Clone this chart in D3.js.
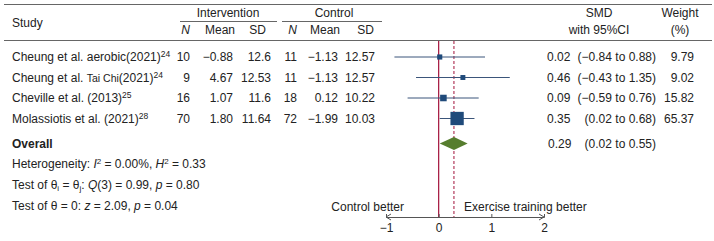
<!DOCTYPE html>
<html>
<head>
  <meta charset="utf-8">
  <title>Forest plot</title>
  <script src="https://d3js.org/d3.v7.min.js"></script>
  <style>
    body { margin: 0; background: #fff; }
    text { font-family: "Liberation Sans", Arial, sans-serif; font-size: 12px; fill: #222; }
  </style>
</head>
<body>
  <div id="chart"></div>
  <script>
    const studies = ["Cheung et al. aerobic (2021)", "Cheung et al. Tai Chi (2021)", "Cheville et al. (2013)", "Molassiotis et al. (2021)"];
    const refs = ["24", "24", "25", "28"];
    const nInt = ["10", "9", "16", "70"];
    const meanInt = ["\u22120.88", "4.67", "1.07", "1.80"];
    const sdInt = ["12.6", "12.53", "11.6", "11.64"];
    const nCtl = ["11", "11", "18", "72"];
    const meanCtl = ["\u22121.13", "\u22121.13", "0.12", "\u22121.99"];
    const sdCtl = ["12.57", "12.57", "10.22", "10.03"];
    const smd = [0.02, 0.46, 0.09, 0.35];
    const lo = [-0.84, -0.43, -0.59, 0.02];
    const hi = [0.88, 1.35, 0.76, 0.68];
    const weight = [9.79, 9.02, 15.82, 65.37];
    const overall = { est: 0.29, lo: 0.02, hi: 0.55 };
    const axisTicks = [-1, 0, 1, 2];

    const W = 714, H = 241;
    const svg = d3.select("#chart").append("svg")
      .attr("width", W).attr("height", H);

    const x = d3.scaleLinear().domain([-1, 2]).range([386, 544]);
    const y = d3.scaleLinear().domain([0, 3]).range([57, 118.5]);
    const size = d3.scaleSqrt().domain([0, 65.37]).range([0, 13.3]);
    const fmt = d => d < 0 ? "\u2212" + Math.abs(d).toFixed(2) : d.toFixed(2);

    const lineCol = "#666";
    // header rules
    svg.append("line").attr("x1", 4).attr("x2", 712).attr("y1", 4.5).attr("y2", 4.5).attr("stroke", lineCol);
    svg.append("line").attr("x1", 4).attr("x2", 712).attr("y1", 40.5).attr("y2", 40.5).attr("stroke", lineCol);
    svg.append("line").attr("x1", 180).attr("x2", 277).attr("y1", 21.5).attr("y2", 21.5).attr("stroke", lineCol);
    svg.append("line").attr("x1", 282).attr("x2", 382).attr("y1", 21.5).attr("y2", 21.5).attr("stroke", lineCol);

    const hdr = (t, xx, yy, anchor, italic) => svg.append("text")
      .attr("x", xx).attr("y", yy).attr("dy", "0.35em")
      .attr("text-anchor", anchor || "middle")
      .style("font-style", italic ? "italic" : null)
      .text(t);

    hdr("Study", 12, 23, "start");
    hdr("Intervention", 228, 13);
    hdr("Control", 334, 13);
    hdr("N", 190, 30, "end", true);
    hdr("Mean", 235, 30, "end");
    hdr("SD", 266, 30, "end");
    hdr("N", 297, 30, "end", true);
    hdr("Mean", 340, 30, "end");
    hdr("SD", 374, 30, "end");
    hdr("SMD", 599, 13);
    hdr("with 95%CI", 599, 30);
    hdr("Weight", 680, 13);
    hdr("(%)", 680, 30);

    // study labels
    studies.forEach((s, i) => {
      const t = svg.append("text").attr("x", 12).attr("y", y(i)).attr("dy", "0.35em");
      if (s.indexOf("Tai Chi") >= 0) {
        t.append("tspan").text("Cheung et al. ");
        t.append("tspan").attr("font-size", "10.5px").style("font-size", "10.5px").text("Tai Chi");
        t.append("tspan").text("(2021)");
      } else if (s.indexOf("aerobic") >= 0) {
        t.append("tspan").text("Cheung et al. aerobic(2021)");
      } else {
        t.append("tspan").text(s);
      }
      t.append("tspan").attr("dy", "-4").style("font-size", "8.5px").text(refs[i]);
    });

    const col = (arr, xx, anchor) => svg.selectAll(null).data(arr).enter().append("text")
      .attr("x", xx).attr("y", (d, i) => y(i)).attr("dy", "0.35em")
      .attr("text-anchor", anchor || "end").text(d => d);
    col(nInt, 190);
    col(meanInt, 233);
    col(sdInt, 271);
    col(nCtl, 297);
    col(meanCtl, 338);
    col(sdCtl, 375);

    col(smd.map(fmt), 547, "start");
    col(smd.map((d, i) => "(" + fmt(lo[i]) + " to " + fmt(hi[i]) + ")"), 656);
    col(weight.map(d => d.toFixed(2)), 694);

    // reference lines
    const red = "#a3123a";
    svg.append("line").attr("x1", x(0)).attr("x2", x(0)).attr("y1", 41).attr("y2", 217)
      .attr("stroke", red).attr("stroke-width", 1.2);
    svg.append("line").attr("x1", x(overall.est)).attr("x2", x(overall.est)).attr("y1", 41).attr("y2", 217)
      .attr("stroke", red).attr("stroke-width", 1).attr("stroke-dasharray", "3,2");

    // CIs and squares
    const navy = "#1f4a7a";
    svg.selectAll(".ci").data(smd).enter().append("line")
      .attr("x1", (d, i) => x(lo[i])).attr("x2", (d, i) => x(hi[i]))
      .attr("y1", (d, i) => y(i)).attr("y2", (d, i) => y(i))
      .attr("stroke", "#3b557a").attr("stroke-width", 1);
    svg.selectAll(".sq").data(smd).enter().append("rect")
      .attr("x", (d, i) => x(d) - size(weight[i]) / 2)
      .attr("y", (d, i) => y(i) - size(weight[i]) / 2)
      .attr("width", (d, i) => size(weight[i]))
      .attr("height", (d, i) => size(weight[i]))
      .attr("fill", navy);

    // overall
    const oy = 143.5;
    svg.append("path")
      .attr("d", `M${x(overall.lo)},${oy} L${x(overall.est)},${oy - 6.5} L${x(overall.hi)},${oy} L${x(overall.est)},${oy + 6.5} Z`)
      .attr("fill", "#567d2e");
    svg.append("text").attr("x", 12).attr("y", oy).attr("dy", "0.35em")
      .style("font-weight", "bold").text("Overall");
    svg.append("text").attr("x", 548).attr("y", oy).attr("dy", "0.35em").text(fmt(overall.est));
    svg.append("text").attr("x", 656).attr("y", oy).attr("dy", "0.35em").attr("text-anchor", "end")
      .text("(" + fmt(overall.lo) + " to " + fmt(overall.hi) + ")");

    // stats text
    const t1 = svg.append("text").attr("x", 12).attr("y", 164).attr("dy", "0.35em");
    t1.append("tspan").text("Heterogeneity: ");
    t1.append("tspan").style("font-style", "italic").text("I");
    t1.append("tspan").attr("dy", -4).style("font-size", "8px").text("2");
    t1.append("tspan").attr("dy", 4).text(" = 0.00%, ");
    t1.append("tspan").style("font-style", "italic").text("H");
    t1.append("tspan").attr("dy", -4).style("font-size", "8px").text("2");
    t1.append("tspan").attr("dy", 4).text(" = 0.33");

    const t2 = svg.append("text").attr("x", 12).attr("y", 185).attr("dy", "0.35em");
    t2.append("tspan").text("Test of \u03b8");
    t2.append("tspan").attr("dy", 2).style("font-size", "8px").text("i");
    t2.append("tspan").attr("dy", -2).text(" = \u03b8");
    t2.append("tspan").attr("dy", 2).style("font-size", "8px").text("j");
    t2.append("tspan").attr("dy", -2).text(": ");
    t2.append("tspan").style("font-style", "italic").text("Q");
    t2.append("tspan").text("(3) = 0.99, ");
    t2.append("tspan").style("font-style", "italic").text("p");
    t2.append("tspan").text(" = 0.80");

    const t3 = svg.append("text").attr("x", 12).attr("y", 206).attr("dy", "0.35em");
    t3.append("tspan").text("Test of \u03b8 = 0: ");
    t3.append("tspan").style("font-style", "italic").text("z");
    t3.append("tspan").text(" = 2.09, ");
    t3.append("tspan").style("font-style", "italic").text("p");
    t3.append("tspan").text(" = 0.04");

    // axis
    const axisY = 217;
    const ax = svg.append("g").attr("transform", `translate(0,${axisY})`)
      .call(d3.axisBottom(x).tickValues(axisTicks).tickSize(-3).tickPadding(6).tickFormat(d => d < 0 ? "\u2212" + Math.abs(d) : d));
    ax.select(".domain").attr("stroke", "#555");
    ax.selectAll(".tick line").attr("stroke", "#555");
    ax.selectAll(".tick text").style("font-family", "Liberation Sans, Arial, sans-serif").style("font-size", "12px").attr("fill", "#222");
    ax.selectAll(".tick").filter(d => d === -1 || d === 2).select("line").remove();
    // arrowheads
    svg.append("path")
      .attr("d", `M${x(-1) + 5},${axisY - 3} L${x(-1)},${axisY} L${x(-1) + 5},${axisY + 3}`)
      .attr("fill", "none").attr("stroke", "#555");
    svg.append("path")
      .attr("d", `M${x(2) - 5},${axisY - 3} L${x(2)},${axisY} L${x(2) - 5},${axisY + 3}`)
      .attr("fill", "none").attr("stroke", "#555");

    svg.append("text").attr("x", 404).attr("y", 207).attr("dy", "0.35em").attr("text-anchor", "end").text("Control better");
    svg.append("text").attr("x", 464).attr("y", 207).attr("dy", "0.35em").text("Exercise training better");
  </script>
</body>
</html>
